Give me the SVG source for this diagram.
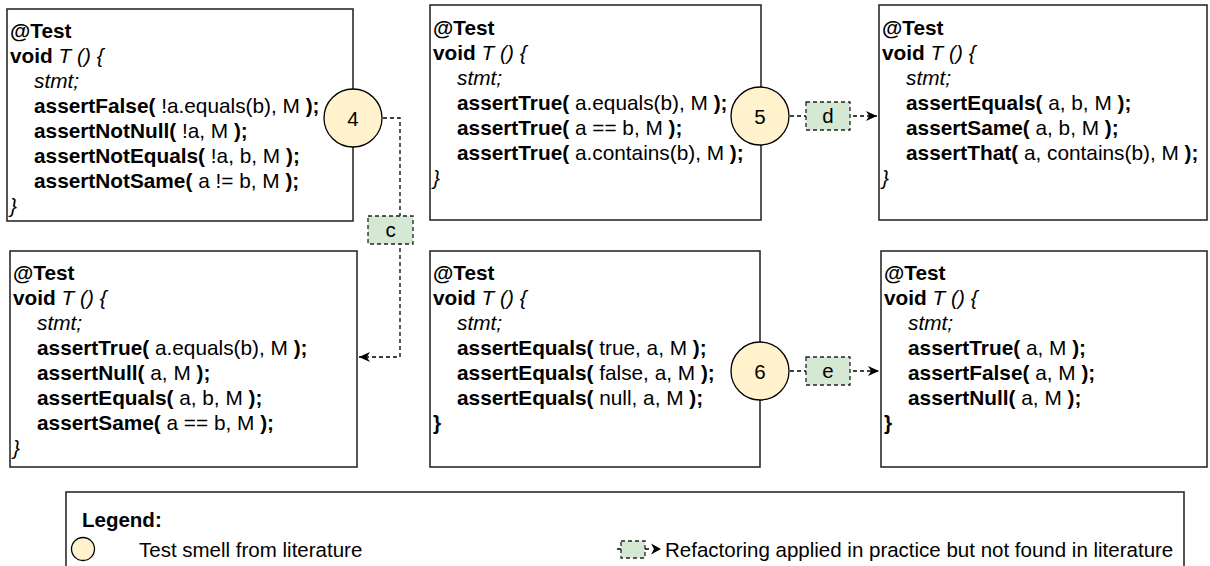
<svg xmlns="http://www.w3.org/2000/svg" width="1210" height="566" viewBox="0 0 1210 566">
  <defs>
    <style>
      .box { fill: #ffffff; stroke: #2b2b2b; stroke-width: 1.6; }
      .code { font-family: "Liberation Sans", Arial, Helvetica, sans-serif; font-size: 20.8px; fill: #000000; }
      .leg { font-family: "Liberation Sans", Arial, Helvetica, sans-serif; font-size: 20.5px; fill: #000000; }
      .b { font-weight: bold; }
      .i { font-style: italic; }
      .smell { fill: #fff2cc; stroke: #000000; stroke-width: 1.3; }
      .num { font-family: "Liberation Sans", Arial, Helvetica, sans-serif; font-size: 20.5px; fill: #000000; text-anchor: middle; }
      .lbl { fill: #d5e8d4; stroke: #222222; stroke-width: 1.3; stroke-dasharray: 4 3; }
      .edge { fill: none; stroke: #000000; stroke-width: 1.3; stroke-dasharray: 4 3; }
    </style>
    <marker id="arrow" markerUnits="userSpaceOnUse" markerWidth="12" markerHeight="11" refX="11" refY="5.5" orient="auto">
      <path d="M0,0.5 L11,5.5 L0,10.5 L3.2,5.5 Z" fill="#000000"/>
    </marker>
  </defs>

  <!-- connectors (drawn first so labels sit on top) -->
  <g id="connectors">
    <path class="edge" d="M383,118 H400 V357 H359" marker-end="url(#arrow)"/>
    <path class="edge" d="M790,116 H877" marker-end="url(#arrow)"/>
    <path class="edge" d="M790,371 H879" marker-end="url(#arrow)"/>
  </g>

  <!-- top-left: negated assertions -->
  <g id="node-neg">
    <rect class="box" x="7" y="9" width="346" height="212"/>
    <text class="code" xml:space="preserve" x="10" y="38"><tspan class="b">@Test</tspan></text>
    <text class="code" xml:space="preserve" x="10" y="63"><tspan class="b">void</tspan><tspan class="i"> T () {</tspan></text>
    <text class="code" xml:space="preserve" x="34" y="88"><tspan class="i">stmt;</tspan></text>
    <text class="code" xml:space="preserve" x="34" y="113"><tspan class="b">assertFalse(</tspan> !a.equals(b), M <tspan class="b">);</tspan></text>
    <text class="code" xml:space="preserve" x="34" y="138"><tspan class="b">assertNotNull(</tspan> !a, M <tspan class="b">);</tspan></text>
    <text class="code" xml:space="preserve" x="34" y="163"><tspan class="b">assertNotEquals(</tspan> !a, b, M <tspan class="b">);</tspan></text>
    <text class="code" xml:space="preserve" x="34" y="188"><tspan class="b">assertNotSame(</tspan> a != b, M <tspan class="b">);</tspan></text>
    <text class="code" xml:space="preserve" x="10" y="213"><tspan class="i">}</tspan></text>
  </g>

  <!-- top-middle: assertTrue with comparisons -->
  <g id="node-true">
    <rect class="box" x="430" y="5" width="331" height="215"/>
    <text class="code" xml:space="preserve" x="433" y="35"><tspan class="b">@Test</tspan></text>
    <text class="code" xml:space="preserve" x="433" y="60"><tspan class="b">void</tspan><tspan class="i"> T () {</tspan></text>
    <text class="code" xml:space="preserve" x="457" y="85"><tspan class="i">stmt;</tspan></text>
    <text class="code" xml:space="preserve" x="457" y="110"><tspan class="b">assertTrue(</tspan> a.equals(b), M <tspan class="b">);</tspan></text>
    <text class="code" xml:space="preserve" x="457" y="135"><tspan class="b">assertTrue(</tspan> a == b, M <tspan class="b">);</tspan></text>
    <text class="code" xml:space="preserve" x="457" y="160"><tspan class="b">assertTrue(</tspan> a.contains(b), M <tspan class="b">);</tspan></text>
    <text class="code" xml:space="preserve" x="433" y="185"><tspan class="i">}</tspan></text>
  </g>

  <!-- top-right: dedicated assertions -->
  <g id="node-dedicated">
    <rect class="box" x="879" y="5" width="328" height="215"/>
    <text class="code" xml:space="preserve" x="882" y="35"><tspan class="b">@Test</tspan></text>
    <text class="code" xml:space="preserve" x="882" y="60"><tspan class="b">void</tspan><tspan class="i"> T () {</tspan></text>
    <text class="code" xml:space="preserve" x="906" y="85"><tspan class="i">stmt;</tspan></text>
    <text class="code" xml:space="preserve" x="906" y="110"><tspan class="b">assertEquals(</tspan> a, b, M <tspan class="b">);</tspan></text>
    <text class="code" xml:space="preserve" x="906" y="135"><tspan class="b">assertSame(</tspan> a, b, M <tspan class="b">);</tspan></text>
    <text class="code" xml:space="preserve" x="906" y="160"><tspan class="b">assertThat(</tspan> a, contains(b), M <tspan class="b">);</tspan></text>
    <text class="code" xml:space="preserve" x="882" y="185"><tspan class="i">}</tspan></text>
  </g>

  <!-- bottom-left: positive assertions -->
  <g id="node-positive">
    <rect class="box" x="10" y="251" width="347" height="216"/>
    <text class="code" xml:space="preserve" x="13" y="280"><tspan class="b">@Test</tspan></text>
    <text class="code" xml:space="preserve" x="13" y="305"><tspan class="b">void</tspan><tspan class="i"> T () {</tspan></text>
    <text class="code" xml:space="preserve" x="37" y="330"><tspan class="i">stmt;</tspan></text>
    <text class="code" xml:space="preserve" x="37" y="355"><tspan class="b">assertTrue(</tspan> a.equals(b), M <tspan class="b">);</tspan></text>
    <text class="code" xml:space="preserve" x="37" y="380"><tspan class="b">assertNull(</tspan> a, M <tspan class="b">);</tspan></text>
    <text class="code" xml:space="preserve" x="37" y="405"><tspan class="b">assertEquals(</tspan> a, b, M <tspan class="b">);</tspan></text>
    <text class="code" xml:space="preserve" x="37" y="430"><tspan class="b">assertSame(</tspan> a == b, M <tspan class="b">);</tspan></text>
    <text class="code" xml:space="preserve" x="13" y="455"><tspan class="i">}</tspan></text>
  </g>

  <!-- bottom-middle: assertEquals with literals -->
  <g id="node-literals">
    <rect class="box" x="430" y="251" width="330" height="216"/>
    <text class="code" xml:space="preserve" x="433" y="280"><tspan class="b">@Test</tspan></text>
    <text class="code" xml:space="preserve" x="433" y="305"><tspan class="b">void</tspan><tspan class="i"> T () {</tspan></text>
    <text class="code" xml:space="preserve" x="457" y="330"><tspan class="i">stmt;</tspan></text>
    <text class="code" xml:space="preserve" x="457" y="355"><tspan class="b">assertEquals(</tspan> true, a, M <tspan class="b">);</tspan></text>
    <text class="code" xml:space="preserve" x="457" y="380"><tspan class="b">assertEquals(</tspan> false, a, M <tspan class="b">);</tspan></text>
    <text class="code" xml:space="preserve" x="457" y="405"><tspan class="b">assertEquals(</tspan> null, a, M <tspan class="b">);</tspan></text>
    <text class="code" xml:space="preserve" x="433" y="430"><tspan class="b">}</tspan></text>
  </g>

  <!-- bottom-right: boolean / null assertions -->
  <g id="node-boolean">
    <rect class="box" x="881" y="251" width="326" height="216"/>
    <text class="code" xml:space="preserve" x="884" y="280"><tspan class="b">@Test</tspan></text>
    <text class="code" xml:space="preserve" x="884" y="305"><tspan class="b">void</tspan><tspan class="i"> T () {</tspan></text>
    <text class="code" xml:space="preserve" x="908" y="330"><tspan class="i">stmt;</tspan></text>
    <text class="code" xml:space="preserve" x="908" y="355"><tspan class="b">assertTrue(</tspan> a, M <tspan class="b">);</tspan></text>
    <text class="code" xml:space="preserve" x="908" y="380"><tspan class="b">assertFalse(</tspan> a, M <tspan class="b">);</tspan></text>
    <text class="code" xml:space="preserve" x="908" y="405"><tspan class="b">assertNull(</tspan> a, M <tspan class="b">);</tspan></text>
    <text class="code" xml:space="preserve" x="884" y="430"><tspan class="b">}</tspan></text>
  </g>

  <!-- test smell markers -->
  <g id="smell-4">
    <circle class="smell" cx="353" cy="118" r="29"/>
    <text class="num" x="353" y="125.5">4</text>
  </g>
  <g id="smell-5">
    <circle class="smell" cx="760" cy="116" r="29"/>
    <text class="num" x="760" y="123.5">5</text>
  </g>
  <g id="smell-6">
    <circle class="smell" cx="760" cy="371" r="29"/>
    <text class="num" x="760" y="378.5">6</text>
  </g>

  <!-- refactoring labels on the connectors -->
  <g id="label-c">
    <rect class="lbl" x="368" y="216" width="45" height="28"/>
    <text class="num" x="390.5" y="237">c</text>
  </g>
  <g id="label-d">
    <rect class="lbl" x="806" y="102" width="44" height="28"/>
    <text class="num" x="828" y="123">d</text>
  </g>
  <g id="label-e">
    <rect class="lbl" x="806" y="357" width="44" height="28"/>
    <text class="num" x="828" y="378">e</text>
  </g>

  <!-- legend -->
  <g id="legend">
    <rect class="box" x="66" y="492" width="1118" height="100"/>
    <text class="leg b" x="82" y="527">Legend:</text>
    <circle class="smell" cx="83" cy="549" r="11.5"/>
    <text class="leg" x="139" y="557">Test smell from literature</text>
    <path class="edge" d="M617,549 H651" stroke-dasharray="3 3"/>
    <rect class="lbl" x="621" y="541" width="24" height="17" stroke-dasharray="3 2"/>
    <path d="M651,543.5 L661,549 L651,554.5 L654,549 Z" fill="#000000"/>
    <text class="leg" x="665" y="557">Refactoring applied in practice but not found in literature</text>
  </g>
</svg>
